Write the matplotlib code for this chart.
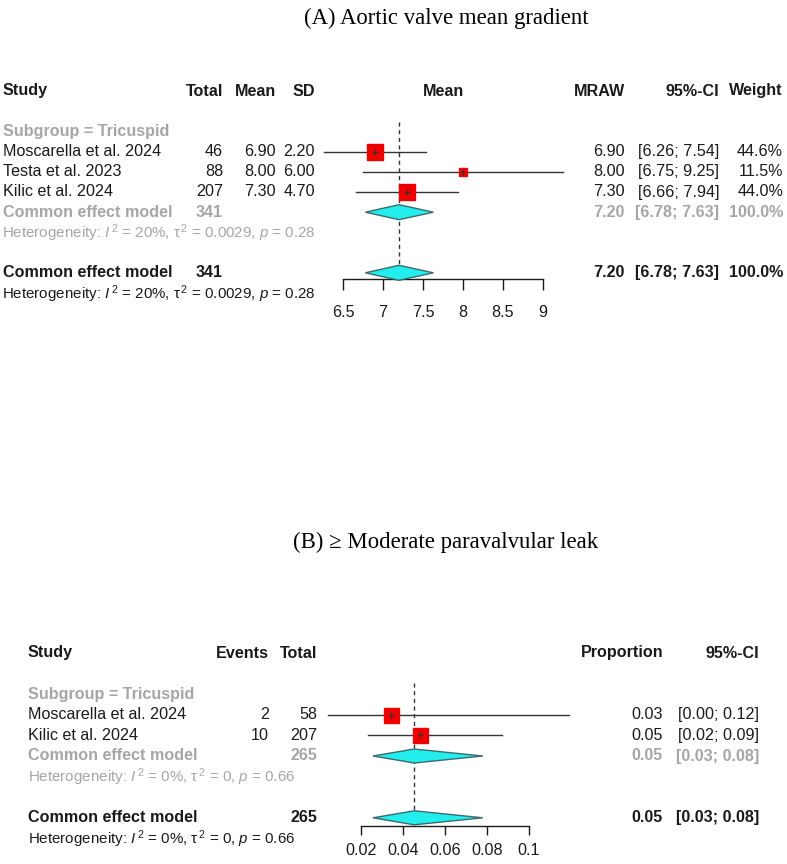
import matplotlib
matplotlib.use("Agg")
import matplotlib.pyplot as plt
from matplotlib.patches import Polygon
from matplotlib.ticker import FuncFormatter

plt.rcParams["font.family"] = ["Liberation Sans", "DejaVu Sans"]
plt.rcParams["mathtext.fontset"] = "custom"
plt.rcParams["mathtext.rm"] = "Liberation Sans"
plt.rcParams["mathtext.it"] = "Liberation Sans:italic"

# ---- panel A: aortic valve mean gradient ----
a_studies = ["Moscarella et al. 2024", "Testa et al. 2023", "Kilic et al. 2024"]
a_total   = [46, 88, 207]
a_mean    = [6.90, 8.00, 7.30]
a_sd      = [2.20, 6.00, 4.70]
a_lower   = [6.26, 6.75, 6.66]
a_upper   = [7.54, 9.25, 7.94]
a_weight  = [44.6, 11.5, 44.0]
a_pooled  = [7.20, 6.78, 7.63]   # estimate, lower, upper
a_n_total = 341
a_het     = ("Heterogeneity: $\\mathit{I}^{\\,2}$ = 20%, $\\mathrm{\\tau}^{\\,2}$"
             " = 0.0029, $\\mathit{p}$ = 0.28")
a_ticks   = [6.5, 7, 7.5, 8, 8.5, 9]

# ---- panel B: >= moderate paravalvular leak ----
b_studies = ["Moscarella et al. 2024", "Kilic et al. 2024"]
b_events  = [2, 10]
b_total   = [58, 207]
b_prop    = [0.0345, 0.0483]
b_lower   = [0.0042, 0.0234]
b_upper   = [0.1190, 0.0871]
b_pooled  = [0.0453, 0.0257, 0.0780]
b_n_total = 265
b_het     = ("Heterogeneity: $\\mathit{I}^{\\,2}$ = 0%, $\\mathrm{\\tau}^{\\,2}$"
             " = 0, $\\mathit{p}$ = 0.66")
b_ticks   = [0.02, 0.04, 0.06, 0.08, 0.1]

W, H = 787, 864
GREY = "#a6a6a6"
INK = "#1a1a1a"
FS = 11.6
FS_HET = 10.9
SQ_RED = "#ee0000"
DIA_FACE = "#22eeee"
DIA_EDGE = "#3d6b6b"

fig = plt.figure(figsize=(W / 100, H / 100), dpi=100)
bg = fig.add_axes([0, 0, 1, 1])
bg.set_xlim(0, W)
bg.set_ylim(H, 0)
bg.axis("off")


def txt(x, y, s, ha="left", bold=False, color=INK, size=FS):
    bg.text(x, y, s, ha=ha, va="center", fontsize=size, color=color,
            fontweight="bold" if bold else "normal")


def forest_ax(px0, px1, xmin, xmax, ytop, ybot, ticks, tick_len, pad):
    ax = fig.add_axes([px0 / W, 1 - ybot / H, (px1 - px0) / W, (ybot - ytop) / H])
    ax.set_xlim(xmin, xmax)
    ax.set_ylim(ybot, ytop)
    ax.patch.set_alpha(0)
    for s in ["top", "left", "right"]:
        ax.spines[s].set_visible(False)
    ax.spines["bottom"].set_linewidth(1)
    ax.spines["bottom"].set_color(INK)
    ax.set_yticks([])
    ax.set_xticks(ticks)
    ax.xaxis.set_major_formatter(FuncFormatter(lambda v, p: "%g" % v))
    ax.tick_params(axis="x", direction="out", length=tick_len, width=1, pad=pad,
                   labelsize=FS, colors=INK)
    return ax


def diamond(ax, est, lo, hi, y, h=14):
    ax.add_patch(Polygon([(lo, y), (est, y - h / 2), (hi, y), (est, y + h / 2)],
                         closed=True, facecolor=DIA_FACE, edgecolor=DIA_EDGE,
                         lw=1, clip_on=False, zorder=3))


def study(ax, est, lo, hi, y, size_px):
    ax.plot([lo, hi], [y, y], color="#333333", lw=1, clip_on=False, zorder=2)
    ax.plot(est, y, marker="s", ms=size_px * 0.72, color=SQ_RED, mec=SQ_RED,
            clip_on=False, zorder=3)
    ax.plot(est, y, marker="+", ms=4, color="#333333", mew=0.8, clip_on=False, zorder=4)


# ================= Panel A =================
bg.text(446, 18, "(A) Aortic valve mean gradient", ha="center", va="center",
        fontsize=16.4, family=["Liberation Serif", "DejaVu Serif"])

ra = lambda i: 91 + 20.2 * i
txt(3, ra(0), "Study", bold=True)
txt(223, ra(0), "Total", ha="right", bold=True)
txt(276, ra(0), "Mean", ha="right", bold=True)
txt(315, ra(0), "SD", ha="right", bold=True)
txt(443, ra(0), "Mean", ha="center", bold=True)
txt(625, ra(0), "MRAW", ha="right", bold=True)
txt(719, ra(0), "95%-CI", ha="right", bold=True)
txt(783, ra(0), "Weight", ha="right", bold=True)
txt(3, ra(2), "Subgroup = Tricuspid", bold=True, color=GREY)

axA = forest_ax(343, 543, 6.5, 9, 100, 279, a_ticks, 8, 10.5)
for i, name in enumerate(a_studies):
    y = ra(3 + i)
    txt(3, y, name)
    txt(223, y, str(a_total[i]), ha="right")
    txt(276, y, "%.2f" % a_mean[i], ha="right")
    txt(315, y, "%.2f" % a_sd[i], ha="right")
    txt(625, y, "%.2f" % a_mean[i], ha="right")
    txt(719, y, "[%.2f; %.2f]" % (a_lower[i], a_upper[i]), ha="right")
    txt(783, y, "%.1f%%" % a_weight[i], ha="right")
    study(axA, a_mean[i], a_lower[i], a_upper[i], y, 2.4 * a_weight[i] ** 0.5)

for row, col in [(6, GREY), (9, INK)]:
    y = ra(row)
    txt(3, y, "Common effect model", bold=True, color=col)
    txt(223, y, str(a_n_total), ha="right", bold=True, color=col)
    txt(625, y, "%.2f" % a_pooled[0], ha="right", bold=True, color=col)
    txt(719, y, "[%.2f; %.2f]" % (a_pooled[1], a_pooled[2]), ha="right", bold=True, color=col)
    txt(783, y, "100.0%", ha="right", bold=True, color=col)
    diamond(axA, a_pooled[0], a_pooled[1], a_pooled[2], y, 15)
txt(2, ra(7) + 1, a_het, color=GREY, size=FS_HET)
txt(2, ra(10) + 1, a_het, size=FS_HET)
axA.plot([a_pooled[0]] * 2, [122, 279], ls=(0, (3, 2.5)), color="#333333", lw=1,
         clip_on=False, zorder=1)

# ================= Panel B =================
bg.text(446, 542, "(B) \u2265 Moderate paravalvular leak", ha="center", va="center",
        fontsize=16.4, family=["Liberation Serif", "DejaVu Serif"])

rb = lambda i: 653 + 20.6 * i
txt(28, rb(0), "Study", bold=True)
txt(269, rb(0), "Events", ha="right", bold=True)
txt(317, rb(0), "Total", ha="right", bold=True)
txt(663, rb(0), "Proportion", ha="right", bold=True)
txt(759, rb(0), "95%-CI", ha="right", bold=True)
txt(28, rb(2), "Subgroup = Tricuspid", bold=True, color=GREY)

axB = forest_ax(361, 529, 0.02, 0.1, 660, 826, b_ticks, 6.5, 6)
for i, name in enumerate(b_studies):
    y = rb(3 + i)
    txt(28, y, name)
    txt(269, y, str(b_events[i]), ha="right")
    txt(317, y, str(b_total[i]), ha="right")
    txt(663, y, "%.2f" % b_prop[i], ha="right")
    txt(759, y, "[%.2f; %.2f]" % (b_lower[i], b_upper[i]), ha="right")
    study(axB, b_prop[i], b_lower[i], b_upper[i], y, 15)

for row, col in [(5, GREY), (8, INK)]:
    y = rb(row)
    txt(28, y, "Common effect model", bold=True, color=col)
    txt(317, y, str(b_n_total), ha="right", bold=True, color=col)
    txt(663, y, "%.2f" % b_pooled[0], ha="right", bold=True, color=col)
    txt(759, y, "[%.2f; %.2f]" % (b_pooled[1], b_pooled[2]), ha="right", bold=True, color=col)
    diamond(axB, b_pooled[0], b_pooled[1], b_pooled[2], y, 14)
txt(28, rb(6) + 1, b_het, color=GREY, size=FS_HET)
txt(28, rb(9) + 1, b_het, size=FS_HET)
axB.plot([b_pooled[0]] * 2, [683, 826], ls=(0, (3, 2.5)), color="#333333", lw=1,
         clip_on=False, zorder=1)

fig.savefig("out.png", dpi=100, facecolor="white")
